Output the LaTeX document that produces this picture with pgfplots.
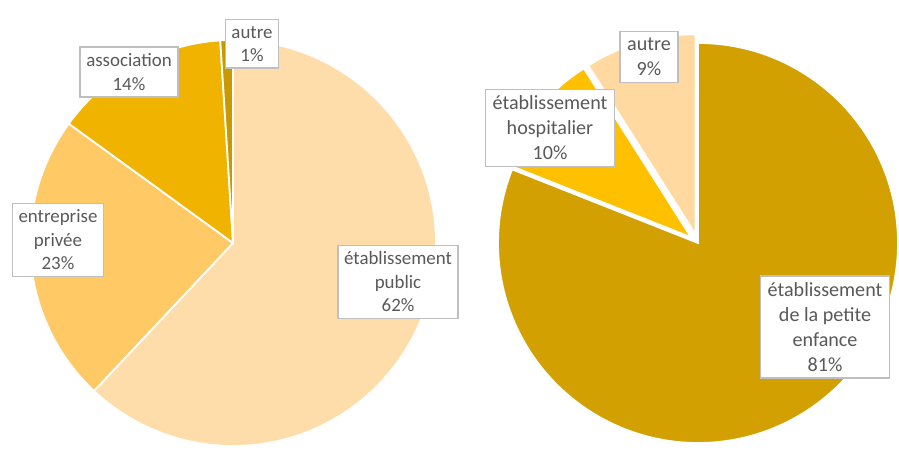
\documentclass[border=0pt]{standalone}
\usepackage{pgfplots}
\pgfplotsset{compat=1.18}
\usepackage{fontspec}
\setmainfont{Carlito}
\definecolor{cPub}{HTML}{FFDDAA}
\definecolor{cEnt}{HTML}{FFC966}
\definecolor{cAss}{HTML}{F0B400}
\definecolor{cAut}{HTML}{C89900}
\definecolor{cPet}{HTML}{D2A000}
\definecolor{cHos}{HTML}{FFC000}
\definecolor{cAu2}{HTML}{FFD9A0}
\definecolor{txt}{HTML}{595959}
\definecolor{boxc}{HTML}{BFBFBF}
\tikzset{lab/.style={draw=boxc, line width=1.6bp, fill=white, text=txt, align=center,
  font=\fontsize{18.9bp}{23.5bp}\selectfont, inner xsep=6bp, inner ysep=6.5bp},
  labR/.style={lab, font=\fontsize{20.1bp}{25bp}\selectfont, inner xsep=7bp, inner ysep=6.5bp}}
% pie: center x, center y, radius, list value/colour/explode
\newcommand{\pie}[4]{%
  \gdef\acc{0}%
  \foreach \v/\col/\ex in {#4}{%
    \pgfmathsetmacro\sa{90-3.6*\acc}%
    \pgfmathsetmacro\ea{90-3.6*(\acc+\v)}%
    \pgfmathsetmacro\md{(\sa+\ea)/2}%
    \pgfmathsetmacro\dx{\ex*cos(\md)}%
    \pgfmathsetmacro\dy{\ex*sin(\md)}%
    \fill[\col, draw=white, line width=1.8bp, line join=miter]
      ([shift={(\dx bp,\dy bp)}]axis cs:#1,#2) -- ++(\sa:#3bp)
      arc[start angle=\sa, end angle=\ea, radius=#3bp] -- cycle;
    \pgfmathsetmacro\newacc{\acc+\v}\xdef\acc{\newacc}%
  }}
\begin{document}
\begin{tikzpicture}
\begin{axis}[width=899bp, height=450bp, scale only axis, hide axis,
  xmin=0, xmax=899, ymin=0, ymax=450, clip=false]
\pgfplotsextra{%
  \path (axis cs:0,0) rectangle (axis cs:899,450);
  \pie{233}{207}{203}{62/cPub/0, 23/cEnt/0, 14/cAss/0, 1/cAut/0}%
  \pie{698}{207}{200}{81/cPet/0, 10/cHos/9, 9/cAu2/9}%
}
\node[lab] at (axis cs:252,406) {autre\\1\%};
\node[lab] at (axis cs:129,378) {association\\14\%};
\node[lab] at (axis cs:58,210) {entreprise\\privée\\23\%};
\node[lab] at (axis cs:398,168) {établissement\\public\\62\%};
\node[labR] at (axis cs:649,393) {autre\\9\%};
\node[labR] at (axis cs:550,322) {établissement\\hospitalier\\10\%};
\node[labR] at (axis cs:825,123) {établissement\\de la petite\\enfance\\81\%};
\end{axis}
\end{tikzpicture}
\end{document}
